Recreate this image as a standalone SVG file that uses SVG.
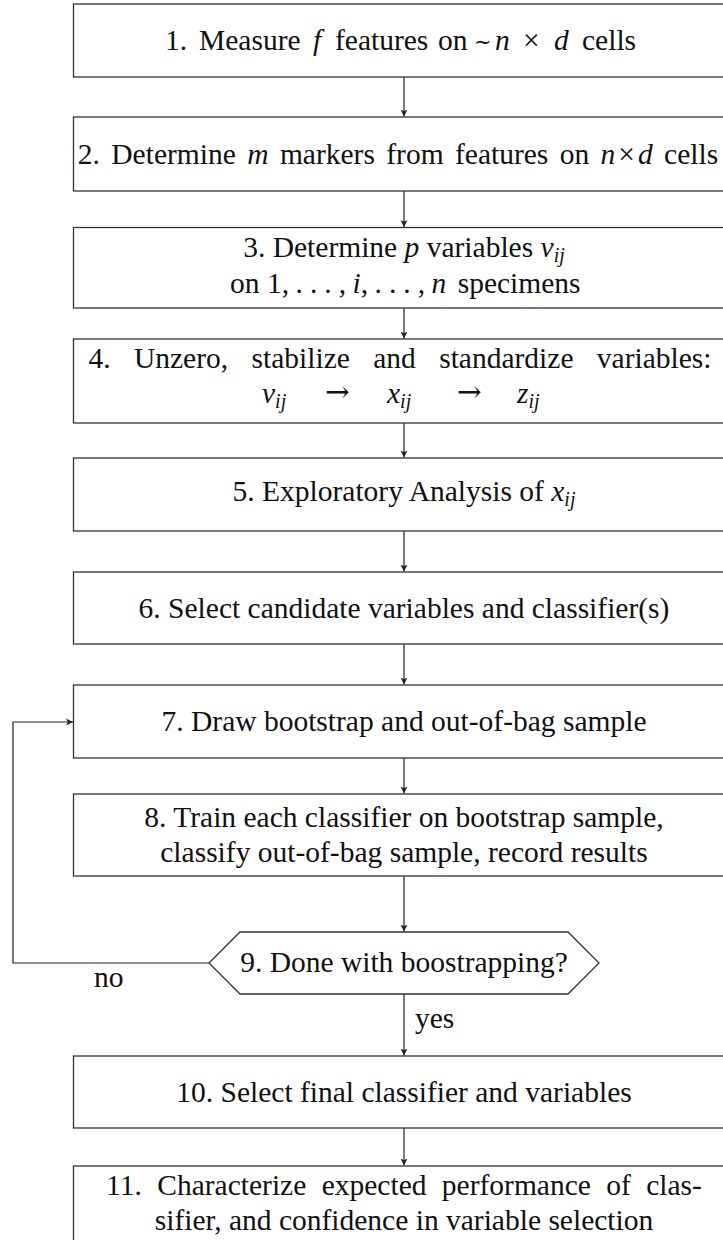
<svg xmlns="http://www.w3.org/2000/svg" width="723" height="1240" viewBox="0 0 723 1240" font-family="'Liberation Serif', 'Times New Roman', serif">
<defs>
<style>
text{font-family:'Liberation Serif','Times New Roman',serif;font-size:29.5px;fill:#111}
.box{fill:#fff;stroke:#333;stroke-width:1.3}
.t{text-anchor:middle}
.i{font-style:italic}
.s{font-style:italic;font-size:20px}
.m{font-family:'DejaVu Serif',serif}
.c{fill:none;stroke:#222;stroke-width:1.2}
</style>
<marker id="ah" markerWidth="10" markerHeight="10" refX="7" refY="4" orient="auto" markerUnits="userSpaceOnUse">
<path d="M0,0.5 L7,4 L0,7.5 L1.8,4 z" fill="#222"/>
</marker>
</defs>
<rect width="723" height="1240" fill="#fff"/>

<g id="connectors">
<line class="c" x1="404" y1="77" x2="404" y2="116.5" marker-end="url(#ah)"/>
<line class="c" x1="404" y1="191" x2="404" y2="227" marker-end="url(#ah)"/>
<line class="c" x1="404" y1="308" x2="404" y2="338.5" marker-end="url(#ah)"/>
<line class="c" x1="404" y1="423" x2="404" y2="457.5" marker-end="url(#ah)"/>
<line class="c" x1="404" y1="531" x2="404" y2="571.5" marker-end="url(#ah)"/>
<line class="c" x1="404" y1="644" x2="404" y2="684.5" marker-end="url(#ah)"/>
<line class="c" x1="404" y1="758" x2="404" y2="793.5" marker-end="url(#ah)"/>
<line class="c" x1="404" y1="876" x2="404" y2="931.5" marker-end="url(#ah)"/>
<line class="c" x1="404" y1="994" x2="404" y2="1055.5" marker-end="url(#ah)"/>
<line class="c" x1="404" y1="1128" x2="404" y2="1165.5" marker-end="url(#ah)"/>
<path class="c" d="M209,963 H13 V722 H73" marker-end="url(#ah)"/>
<text x="94" y="987">no</text>
<text x="415" y="1028">yes</text>
</g>

<g id="n1">
<rect class="box" x="73.5" y="4" width="661" height="73"/>
<text y="50"><tspan x="165">1.</tspan><tspan x="199">Measure</tspan><tspan x="313" class="i">f</tspan><tspan x="335">features</tspan><tspan x="438">on</tspan><tspan x="474" class="m" font-size="21" dy="-1">∼</tspan><tspan x="495" class="i" dy="1">n</tspan><tspan x="523">×</tspan><tspan x="554" class="i">d</tspan><tspan x="582">cells</tspan></text>
</g>

<g id="n2">
<rect class="box" x="73.5" y="117" width="661" height="74"/>
<text class="t" x="398" y="164" word-spacing="4">2. Determine <tspan class="i">m</tspan> markers from features on <tspan class="i">n</tspan><tspan dx="3">×</tspan><tspan class="i" dx="3">d</tspan> cells</text>
</g>

<g id="n3">
<rect class="box" x="73.5" y="227.5" width="661" height="80.5"/>
<text class="t" x="404" y="257">3. Determine <tspan class="i">p</tspan> variables <tspan class="i">v</tspan><tspan class="s" dy="5">ij</tspan></text>
<text x="230" y="293">on 1,<tspan dx="6.5" style="letter-spacing:7px">...</tspan>,<tspan dx="6.5" class="i">i</tspan>,<tspan dx="6.5" style="letter-spacing:7px">...</tspan>,<tspan dx="6.5" class="i">n</tspan><tspan x="457.7">specimens</tspan></text>
</g>

<g id="n4">
<rect class="box" x="73.5" y="339" width="661" height="84"/>
<text class="t" x="400" y="368" word-spacing="16">4. Unzero, stabilize and standardize variables:</text>
<text x="262" y="403"><tspan class="i">v</tspan><tspan class="s" dy="5">ij</tspan></text>
<text class="m" x="325" y="402">→</text>
<text x="387" y="403"><tspan class="i">x</tspan><tspan class="s" dy="5">ij</tspan></text>
<text class="m" x="457" y="402">→</text>
<text x="517" y="403"><tspan class="i">z</tspan><tspan class="s" dy="5">ij</tspan></text>
</g>

<g id="n5">
<rect class="box" x="73.5" y="458" width="661" height="73"/>
<text class="t" x="404" y="501">5. Exploratory Analysis of <tspan class="i">x</tspan><tspan class="s" dy="5">ij</tspan></text>
</g>

<g id="n6">
<rect class="box" x="73.5" y="572" width="661" height="72"/>
<text class="t" x="404" y="618">6. Select candidate variables and classifier(s)</text>
</g>

<g id="n7">
<rect class="box" x="73.5" y="685" width="661" height="73"/>
<text class="t" x="404" y="731">7. Draw bootstrap and out-of-bag sample</text>
</g>

<g id="n8">
<rect class="box" x="73.5" y="794" width="661" height="82"/>
<text class="t" x="404" y="827">8. Train each classifier on bootstrap sample,</text>
<text class="t" x="404" y="862">classify out-of-bag sample, record results</text>
</g>

<g id="n9">
<polygon class="box" points="209,963 240,932 568,932 599,963 568,994 240,994"/>
<text class="t" x="404" y="972">9. Done with boostrapping?</text>
</g>

<g id="n10">
<rect class="box" x="73.5" y="1056" width="661" height="72"/>
<text class="t" x="404" y="1102">10. Select final classifier and variables</text>
</g>

<g id="n11">
<rect class="box" x="73.5" y="1166" width="661" height="80"/>
<text class="t" x="404" y="1195" word-spacing="8">11. Characterize expected performance of clas-</text>
<text class="t" x="404" y="1230">sifier, and confidence in variable selection</text>
</g>
</svg>
